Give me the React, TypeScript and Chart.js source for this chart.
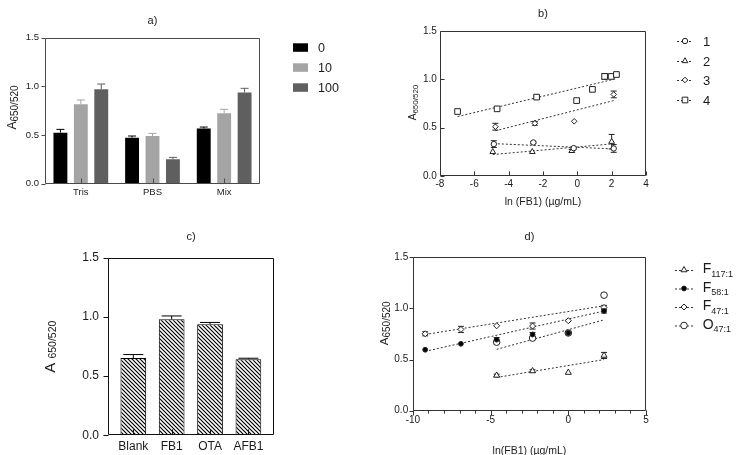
import React, { useEffect, useRef } from 'react';
import { Chart, registerables } from 'chart.js';

Chart.register(...registerables);

const FONT = "'Liberation Sans', Arial, Helvetica, sans-serif";
const TEXT = '#1b1b1b';
Chart.defaults.font.family = FONT;
Chart.defaults.color = TEXT;

// ===== Panel a =====
const aTitle = 'a)';
const aCategories = ['Tris', 'PBS', 'Mix'];
const aSeriesNames = ['0', '10', '100'];
const aValues0 = [0.524, 0.473, 0.568];
const aValues10 = [0.815, 0.49, 0.723];
const aValues100 = [0.97, 0.25, 0.938];
const aErrors0 = [0.034, 0.017, 0.014];
const aErrors10 = [0.045, 0.027, 0.041];
const aErrors100 = [0.054, 0.02, 0.042];

// ===== Panel b =====
const bTitle = 'b)';
const bXTitle = 'ln (FB1) (µg/mL)';
const bSeriesNames = ['1', '2', '3', '4'];
const b1X = [-4.86, -2.56, -0.21, 2.12];
const b1Y = [0.33, 0.347, 0.288, 0.285];
const b1Err = [0.035, 0.01, 0.01, 0.04];
const b2X = [-4.92, -2.62, -0.32, 2.0];
const b2Y = [0.25, 0.25, 0.26, 0.355];
const b2Err = [0, 0, 0.015, 0.075];
const b3X = [-4.77, -2.47, -0.18, 2.12];
const b3Y = [0.51, 0.545, 0.566, 0.844];
const b3Err = [0.035, 0.02, 0, 0.035];
const b4X = [-6.97, -4.67, -2.37, -0.04, 0.88, 1.59, 1.97, 2.28];
const b4Y = [0.667, 0.695, 0.816, 0.78, 0.896, 1.03, 1.03, 1.05];
const b4Err = [0, 0, 0.015, 0, 0.02, 0.03, 0, 0];
const b1FitX = [-4.86, 2.12];
const b1FitY = [0.335, 0.28];
const b2FitX = [-4.92, 2.0];
const b2FitY = [0.222, 0.332];
const b3FitX = [-4.77, 2.12];
const b3FitY = [0.468, 0.78];
const b4FitX = [-6.97, 2.28];
const b4FitY = [0.615, 1.007];

// ===== Panel c =====
const cTitle = 'c)';
const cCategories = ['Blank', 'FB1', 'OTA', 'AFB1'];
const cValues = [0.652, 0.98, 0.938, 0.643];
const cErrors = [0.03, 0.028, 0.015, 0.008];

// ===== Panel d =====
const dTitle = 'd)';
const dXTitle = 'ln(FB1) (µg/mL)';
const dSeriesMain = ['F', 'F', 'F', 'O'];
const dSeriesSub = ['117:1', '58:1', '47:1', '47:1'];
const dF117X = [-4.61, -2.3, 0, 2.3];
const dF117Y = [0.345, 0.388, 0.373, 0.54];
const dF117Err = [0.012, 0.012, 0, 0.03];
const dF58X = [-9.21, -6.91, -4.61, -2.3, 0, 2.3];
const dF58Y = [0.596, 0.654, 0.695, 0.745, 0.76, 0.975];
const dF58Err = [0, 0, 0.02, 0.02, 0.015, 0.02];
const dF47X = [-9.21, -6.91, -4.61, -2.3, 0, 2.3];
const dF47Y = [0.752, 0.795, 0.83, 0.828, 0.88, 1.01];
const dF47Err = [0.02, 0.03, 0, 0.03, 0, 0.02];
const dO47X = [-4.61, -2.3, 0, 2.3];
const dO47Y = [0.67, 0.71, 0.76, 1.13];
const dO47Err = [0, 0, 0, 0];
const dF117FitX = [-4.61, 2.3];
const dF117FitY = [0.325, 0.5];
const dF58FitX = [-9.21, 2.3];
const dF58FitY = [0.58, 0.975];
const dF47FitX = [-9.21, 2.3];
const dF47FitY = [0.745, 1.026];
const dO47FitX = [-4.61, 2.3];
const dO47FitY = [0.6, 0.888];

// shared y ticks
const yTickLabels = ['0.0', '0.5', '1.0', '1.5'];
const yMin = 0;
const yMax = 1.5;
const yStep = 0.5;

// ===== styles =====
const aColors = ['#000000', '#a4a4a4', '#5f5f5f'];
const bStyles = ['circle', 'triangle', 'rectRot', 'rect'];
const bRadii = [2.7, 3.3, 2.8, 4.0];
const dStyles = ['triangle', 'circle', 'rectRot', 'circle'];
const dRadii = [3.5, 2.4, 3.0, 3.3];
const dFills = ['#ffffff', '#000000', '#ffffff', '#ffffff'];
const MARK = '#222222';

type Seg = { t: string; size: number; dy?: number };

function drawSegs(ctx: CanvasRenderingContext2D, x: number, y: number, segs: Seg[], align: 'left' | 'center') {
  let total = 0;
  const widths = segs.map((s) => {
    ctx.font = `${s.size}px ${FONT}`;
    const w = ctx.measureText(s.t).width;
    total += w;
    return w;
  });
  let cx = align === 'center' ? x - total / 2 : x;
  ctx.textAlign = 'left';
  ctx.textBaseline = 'alphabetic';
  ctx.fillStyle = TEXT;
  segs.forEach((s, i) => {
    ctx.font = `${s.size}px ${FONT}`;
    ctx.fillText(s.t, cx, y + (s.dy || 0));
    cx += widths[i];
  });
}

function markerPath(ctx: CanvasRenderingContext2D, style: string, x: number, y: number, r: number) {
  ctx.beginPath();
  if (style === 'circle') {
    ctx.arc(x, y, r, 0, Math.PI * 2);
  } else if (style === 'triangle') {
    let rad = 0;
    ctx.moveTo(x + Math.sin(rad) * r, y - Math.cos(rad) * r);
    rad += (Math.PI * 2) / 3;
    ctx.lineTo(x + Math.sin(rad) * r, y - Math.cos(rad) * r);
    rad += (Math.PI * 2) / 3;
    ctx.lineTo(x + Math.sin(rad) * r, y - Math.cos(rad) * r);
    ctx.closePath();
  } else if (style === 'rect') {
    const s = r * Math.SQRT1_2;
    ctx.rect(x - s, y - s, 2 * s, 2 * s);
  } else {
    ctx.moveTo(x - r, y);
    ctx.lineTo(x, y - r);
    ctx.lineTo(x + r, y);
    ctx.lineTo(x, y + r);
    ctx.closePath();
  }
}

function yTitlePlugin(cx: number, cy: number, segs: Seg[], baseline: number) {
  return {
    id: 'ytitle',
    afterDraw(chart: any) {
      const ctx = chart.ctx;
      ctx.save();
      ctx.translate(cx, cy);
      ctx.rotate(-Math.PI / 2);
      drawSegs(ctx, 0, baseline, segs, 'center');
      ctx.restore();
    },
  };
}

function framePlugin(cfg: any) {
  return {
    id: 'frame',
    afterDatasetsDraw(chart: any) {
      const { ctx, chartArea: ca } = chart;
      const xs = chart.scales.x;
      const ys = chart.scales.y;
      const L = Math.round(ca.left) + 0.5;
      const R = Math.round(ca.right) - 0.5;
      const T = Math.round(ca.top) + 0.5;
      const B = Math.round(ca.bottom) - 0.5;
      ctx.save();
      ctx.strokeStyle = cfg.color;
      ctx.lineWidth = 1;
      ctx.setLineDash([]);
      ctx.beginPath();
      ctx.rect(L, T, R - L, B - T);
      ctx.stroke();
      ctx.beginPath();
      ys.ticks.forEach((t: any) => {
        const p = Math.round(ys.getPixelForValue(t.value)) + 0.5;
        if (cfg.yIn) {
          ctx.moveTo(L, p);
          ctx.lineTo(L + cfg.yLen, p);
        } else {
          ctx.moveTo(L - cfg.yLen, p);
          ctx.lineTo(L, p);
        }
      });
      xs.ticks.forEach((_t: any, i: number) => {
        const p = Math.round(xs.getPixelForTick(i)) + 0.5;
        if (cfg.xIn) {
          ctx.moveTo(p, B);
          ctx.lineTo(p, B - cfg.xLen);
        } else {
          ctx.moveTo(p, B);
          ctx.lineTo(p, B + cfg.xLen);
        }
      });
      if (cfg.minorStep) {
        for (let v = xs.min; v <= xs.max + 1e-9; v += cfg.minorStep) {
          const p = Math.round(xs.getPixelForValue(v)) + 0.5;
          ctx.moveTo(p, B);
          ctx.lineTo(p, B + cfg.minorLen);
        }
      }
      ctx.stroke();
      ctx.restore();
    },
  };
}

function errorBarPlugin(capW: number, mode: 'up' | 'both') {
  return {
    id: 'errbars',
    beforeDatasetsDraw(chart: any) {
      const ctx = chart.ctx;
      const ys = chart.scales.y;
      chart.data.datasets.forEach((ds: any, i: number) => {
        const errs = ds.errors;
        if (!errs) return;
        const meta = chart.getDatasetMeta(i);
        meta.data.forEach((el: any, j: number) => {
          const e = errs[j];
          if (!e) return;
          const raw = ds.data[j];
          const v = typeof raw === 'number' ? raw : raw.y;
          const x = el.x;
          const yTop = ys.getPixelForValue(v + e);
          const yBot = mode === 'up' ? ys.getPixelForValue(v) : ys.getPixelForValue(v - e);
          ctx.save();
          ctx.strokeStyle = ds.errColor || MARK;
          ctx.lineWidth = 1;
          ctx.setLineDash([]);
          ctx.beginPath();
          ctx.moveTo(x, yTop);
          ctx.lineTo(x, yBot);
          ctx.moveTo(x - capW / 2, yTop);
          ctx.lineTo(x + capW / 2, yTop);
          if (mode === 'both') {
            ctx.moveTo(x - capW / 2, yBot);
            ctx.lineTo(x + capW / 2, yBot);
          }
          ctx.stroke();
          ctx.restore();
        });
      });
    },
  };
}

function boxLegendPlugin(names: string[], colors: string[], x: number, ys: number[], textX: number, size: number) {
  return {
    id: 'boxlegend',
    afterDraw(chart: any) {
      const ctx = chart.ctx;
      ctx.save();
      names.forEach((n, i) => {
        ctx.fillStyle = colors[i];
        ctx.fillRect(x, ys[i] - 4.2, 15, 8.5);
        drawSegs(ctx, textX, ys[i] + size * 0.36, [{ t: n, size }], 'left');
      });
      ctx.restore();
    },
  };
}

function lineLegendPlugin(
  items: { segs: Seg[]; style: string; r: number; fill: string }[],
  x1: number,
  x2: number,
  ys: number[],
  textX: number,
  baseDy: number
) {
  return {
    id: 'linelegend',
    afterDraw(chart: any) {
      const ctx = chart.ctx;
      ctx.save();
      items.forEach((it, i) => {
        const y = ys[i];
        ctx.strokeStyle = '#333';
        ctx.lineWidth = 1;
        ctx.setLineDash([2, 2]);
        ctx.beginPath();
        ctx.moveTo(x1, y + 0.5);
        ctx.lineTo(x2, y + 0.5);
        ctx.stroke();
        ctx.setLineDash([]);
        markerPath(ctx, it.style, (x1 + x2) / 2, y, it.r);
        ctx.fillStyle = it.fill;
        ctx.fill();
        ctx.strokeStyle = MARK;
        ctx.stroke();
        drawSegs(ctx, textX, y + baseDy, it.segs, 'left');
      });
      ctx.restore();
    },
  };
}

const yScale = (size: number, padding: number) => ({
  min: yMin,
  max: yMax,
  grid: { display: false, drawTicks: false },
  border: { display: false },
  ticks: {
    stepSize: yStep,
    padding,
    color: TEXT,
    font: { size, family: FONT },
    callback: (v: number) => yTickLabels[Math.round((v - yMin) / yStep)] ?? '',
  },
});

const titleOpts = (text: string, top: number, bottom: number) => ({
  display: true,
  fullSize: false,
  text,
  color: TEXT,
  font: { size: 11, family: FONT, weight: 'normal' },
  padding: { top, bottom },
});

const pts = (xs: number[], ys: number[]) => xs.map((x, i) => ({ x, y: ys[i] }));

function configA(): any {
  const vals = [aValues0, aValues10, aValues100];
  const errs = [aErrors0, aErrors10, aErrors100];
  return {
    type: 'bar',
    data: {
      labels: aCategories,
      datasets: vals.map((v, i) => ({
        label: aSeriesNames[i],
        data: v,
        backgroundColor: aColors[i],
        borderWidth: 0,
        errors: errs[i],
        errColor: aColors[i],
      })),
    },
    options: {
      animation: false,
      responsive: false,
      devicePixelRatio: 1,
      layout: { padding: { left: 19.8, right: 111, top: 0, bottom: 13.9 } },
      datasets: { bar: { barPercentage: 0.68, categoryPercentage: 0.855 } },
      scales: {
        x: {
          grid: { display: false, drawTicks: false },
          border: { display: false },
          ticks: { padding: 3, color: TEXT, font: { size: 9.5, family: FONT } },
        },
        y: yScale(9.5, 6),
      },
      plugins: {
        legend: { display: false },
        tooltip: { enabled: false },
        title: titleOpts(aTitle, 14.4, 10.1),
      },
    },
    plugins: [
      errorBarPlugin(8, 'up'),
      framePlugin({ color: '#4a4a4a', yIn: false, yLen: 4, xIn: true, xLen: 5 }),
      boxLegendPlugin(aSeriesNames, aColors, 293, [47.5, 67.5, 87.5], 318, 12.5),
      yTitlePlugin(11.7, 107.5, [{ t: 'A', size: 12 }, { t: '650/520', size: 10, dy: 2 }], 4.3),
    ],
  };
}

function configB(): any {
  const X = [b1X, b2X, b3X, b4X];
  const Y = [b1Y, b2Y, b3Y, b4Y];
  const E = [b1Err, b2Err, b3Err, b4Err];
  const FX = [b1FitX, b2FitX, b3FitX, b4FitX];
  const FY = [b1FitY, b2FitY, b3FitY, b4FitY];
  const pointSets = X.map((xs, i) => ({
    label: bSeriesNames[i],
    data: pts(xs, Y[i]),
    showLine: false,
    pointStyle: bStyles[i],
    pointRadius: bRadii[i],
    pointBackgroundColor: '#ffffff',
    pointBorderColor: MARK,
    pointBorderWidth: 1,
    errors: E[i],
  }));
  const lineSets = FX.map((xs, i) => ({
    label: 'fit ' + bSeriesNames[i],
    data: pts(xs, FY[i]),
    showLine: true,
    pointRadius: 0,
    borderColor: '#333333',
    borderWidth: 1,
    borderDash: [2, 2],
  }));
  return {
    type: 'scatter',
    data: { datasets: [...pointSets, ...lineSets] },
    options: {
      animation: false,
      responsive: false,
      devicePixelRatio: 1,
      layout: { padding: { left: 49, right: 96, top: 0, bottom: 6.4 } },
      scales: {
        x: {
          type: 'linear',
          min: -8,
          max: 4,
          grid: { display: false, drawTicks: false },
          border: { display: false },
          ticks: { stepSize: 2, padding: 2, color: TEXT, font: { size: 10, family: FONT } },
          title: {
            display: true,
            text: bXTitle,
            color: TEXT,
            font: { size: 10.5, family: FONT },
            padding: { top: 4, bottom: 0 },
          },
        },
        y: yScale(10, 3),
      },
      plugins: {
        legend: { display: false },
        tooltip: { enabled: false },
        title: titleOpts(bTitle, 7.4, 10.4),
      },
    },
    plugins: [
      errorBarPlugin(6, 'both'),
      framePlugin({ color: '#333333', yIn: true, yLen: 4, xIn: true, xLen: 4 }),
      lineLegendPlugin(
        bSeriesNames.map((n, i) => ({ segs: [{ t: n, size: 13 }], style: bStyles[i], r: bRadii[i], fill: '#ffffff' })),
        306,
        322,
        [41, 61, 80, 100],
        332,
        4.7
      ),
      yTitlePlugin(41.8, 102.5, [{ t: 'A', size: 10 }, { t: '650/520', size: 8, dy: 2 }], 3.6),
    ],
  };
}

function makeHatch(): CanvasPattern | string {
  const c = document.createElement('canvas');
  c.width = 4;
  c.height = 4;
  const g = c.getContext('2d');
  if (!g) return '#888';
  g.fillStyle = '#ffffff';
  g.fillRect(0, 0, 4, 4);
  g.strokeStyle = '#000000';
  g.lineWidth = 1.2;
  g.beginPath();
  g.moveTo(0, 0);
  g.lineTo(4, 4);
  g.moveTo(-1, 3);
  g.lineTo(1, 5);
  g.moveTo(3, -1);
  g.lineTo(5, 1);
  g.stroke();
  const p = g.createPattern(c, 'repeat');
  return p || '#888';
}

function configC(): any {
  return {
    type: 'bar',
    data: {
      datasets: [
        {
          label: 'A650/520',
          data: cValues.map((v, i) => ({ x: i, y: v })),
          backgroundColor: makeHatch(),
          borderColor: '#000000',
          borderWidth: 1,
          errors: cErrors,
          errColor: '#000000',
        },
      ],
    },
    options: {
      animation: false,
      responsive: false,
      devicePixelRatio: 1,
      layout: { padding: { left: 73.3, right: 96.7, top: 0, bottom: 2.1 } },
      datasets: { bar: { barPercentage: 0.67, categoryPercentage: 1 } },
      scales: {
        x: {
          type: 'linear',
          min: -0.66,
          max: 3.675,
          offset: false,
          grid: { display: false, drawTicks: false },
          border: { display: false },
          ticks: {
            stepSize: 1,
            includeBounds: false,
            padding: 4.1,
            color: TEXT,
            font: { size: 12, family: FONT },
            callback: (v: number) => (Number.isInteger(v) ? cCategories[v] ?? '' : ''),
          },
        },
        y: yScale(12, 9),
      },
      plugins: {
        legend: { display: false },
        tooltip: { enabled: false },
        title: titleOpts(cTitle, 15.4, 14.1),
      },
    },
    plugins: [
      errorBarPlugin(20, 'up'),
      framePlugin({ color: '#111111', yIn: false, yLen: 5, xIn: true, xLen: 5 }),
      yTitlePlugin(49.2, 131.7, [{ t: 'A ', size: 15 }, { t: '650/520', size: 10.5, dy: 1.5 }], 5.3),
    ],
  };
}

function configD(): any {
  const X = [dF117X, dF58X, dF47X, dO47X];
  const Y = [dF117Y, dF58Y, dF47Y, dO47Y];
  const E = [dF117Err, dF58Err, dF47Err, dO47Err];
  const FX = [dF117FitX, dF58FitX, dF47FitX, dO47FitX];
  const FY = [dF117FitY, dF58FitY, dF47FitY, dO47FitY];
  const drawOrder = [1, 0, 2, 3];
  const pointSets = drawOrder.map((i) => ({
    label: dSeriesMain[i] + dSeriesSub[i],
    data: pts(X[i], Y[i]),
    showLine: false,
    pointStyle: dStyles[i],
    pointRadius: dRadii[i],
    pointBackgroundColor: dFills[i],
    pointBorderColor: MARK,
    pointBorderWidth: 1,
    errors: E[i],
  }));
  const lineSets = FX.map((xs, i) => ({
    label: 'fit ' + dSeriesMain[i] + dSeriesSub[i],
    data: pts(xs, FY[i]),
    showLine: true,
    pointRadius: 0,
    borderColor: '#333333',
    borderWidth: 1,
    borderDash: [2, 2],
  }));
  return {
    type: 'scatter',
    data: { datasets: [...pointSets, ...lineSets] },
    options: {
      animation: false,
      responsive: false,
      devicePixelRatio: 1,
      layout: { padding: { left: 18.6, right: 96, top: 0, bottom: 3.4 } },
      scales: {
        x: {
          type: 'linear',
          min: -10,
          max: 5,
          grid: { display: false, drawTicks: false },
          border: { display: false },
          ticks: { stepSize: 5, padding: 4, color: TEXT, font: { size: 10, family: FONT } },
          title: {
            display: true,
            text: dXTitle,
            color: TEXT,
            font: { size: 10.5, family: FONT },
            padding: { top: 14.3, bottom: 0 },
          },
        },
        y: yScale(10, 4.7),
      },
      plugins: {
        legend: { display: false },
        tooltip: { enabled: false },
        title: titleOpts(dTitle, 15.1, 14),
      },
    },
    plugins: [
      errorBarPlugin(6, 'both'),
      framePlugin({ color: '#333333', yIn: false, yLen: 4, xIn: false, xLen: 5, minorStep: 1, minorLen: 3 }),
      lineLegendPlugin(
        dSeriesMain.map((m, i) => ({
          segs: [{ t: m, size: 14 }, { t: dSeriesSub[i], size: 9, dy: 3.5 }],
          style: dStyles[i],
          r: dRadii[i],
          fill: dFills[i],
        })),
        304,
        322,
        [55, 73.5, 92, 110.5],
        331.7,
        3
      ),
      yTitlePlugin(12.5, 108.3, [{ t: 'A', size: 11.5 }, { t: '650/520', size: 10, dy: 2 }], 4.1),
    ],
  };
}

function Panel({ make, left, top, width, height }: { make: () => any; left: number; top: number; width: number; height: number }) {
  const ref = useRef<HTMLCanvasElement>(null);
  useEffect(() => {
    if (!ref.current) return;
    const chart = new Chart(ref.current, make());
    return () => chart.destroy();
  }, []);
  return (
    <canvas
      ref={ref}
      width={width}
      height={height}
      style={{ position: 'absolute', left, top, width, height, display: 'block' }}
    />
  );
}

export default function App() {
  return (
    <div style={{ position: 'absolute', left: 0, top: 0, width: 742, height: 455, background: '#ffffff', overflow: 'hidden' }}>
      <Panel make={configA} left={0} top={0} width={371} height={215} />
      <Panel make={configB} left={371} top={0} width={371} height={215} />
      <Panel make={configC} left={0} top={215} width={371} height={245} />
      <Panel make={configD} left={371} top={215} width={371} height={246} />
    </div>
  );
}
